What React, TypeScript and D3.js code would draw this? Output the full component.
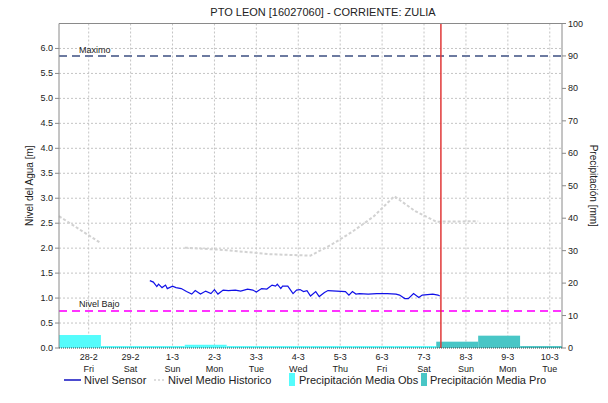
import React from "react";
import * as d3 from "d3";

const title = "PTO LEON [16027060] - CORRIENTE:  ZULIA";
const levelTicks = [0, 0.5, 1, 1.5, 2, 2.5, 3, 3.5, 4, 4.5, 5, 5.5, 6];
const precipTicks = [0, 10, 20, 30, 40, 50, 60, 70, 80, 90, 100];
const tickDates = ["2020-02-28", "2020-02-29", "2020-03-01", "2020-03-02", "2020-03-03", "2020-03-04", "2020-03-05", "2020-03-06", "2020-03-07", "2020-03-08", "2020-03-09", "2020-03-10"];
const tickLabels = ["28-2", "29-2", "1-3", "2-3", "3-3", "4-3", "5-3", "6-3", "7-3", "8-3", "9-3", "10-3"];
const tickDays = ["Fri", "Sat", "Sun", "Mon", "Tue", "Wed", "Thu", "Fri", "Sat", "Sun", "Mon", "Tue"];

// precipitation, daily totals (07:00 to 07:00), labelled by ending day
const obsDays = ["2020-02-28", "2020-02-29", "2020-03-01", "2020-03-02", "2020-03-03", "2020-03-04", "2020-03-05", "2020-03-06", "2020-03-07"];
const obsValues = [4.0, 0.6, 0.6, 1.0, 0.6, 0.6, 0.6, 0.6, 0.6];
const proDays = ["2020-03-08", "2020-03-09", "2020-03-10"];
const proValues = [1.95, 3.8, 0.6];

// historical mean level (null = gap)
const histTimes = ["2020-02-27T07:00", "2020-02-28T07:00", "2020-02-29T07:00", "2020-03-01T07:00", "2020-03-02T07:00", "2020-03-03T07:00", "2020-03-04T07:00", "2020-03-04T19:00", "2020-03-05T07:00", "2020-03-05T19:00", "2020-03-06T07:00", "2020-03-06T19:00", "2020-03-07T07:00", "2020-03-08T07:00"];
const histValues = [2.64, 2.1, null, 2.01, 1.96, 1.88, 1.85, 2.07, 2.33, 2.63, 3.04, 2.74, 2.53, 2.54];

// sensor level: hours after 2020-02-29 00:00
const sensorHours = [11, 13, 15, 16, 18, 20, 21, 24, 26, 29, 32, 35, 37, 40, 43, 46, 48, 50, 53, 56, 60, 63, 67, 70, 72, 75, 78, 81, 83, 84, 86, 87, 90, 93, 95, 97, 99, 101, 103, 106, 108, 111, 113, 118, 123, 125, 127, 129, 131, 136, 141, 147, 152, 154, 157, 159, 162, 165, 167, 170, 173, 176, 177];
const sensorValues = [1.35, 1.32, 1.23, 1.28, 1.21, 1.26, 1.19, 1.24, 1.21, 1.19, 1.13, 1.08, 1.15, 1.08, 1.14, 1.09, 1.17, 1.08, 1.16, 1.15, 1.16, 1.14, 1.18, 1.16, 1.12, 1.19, 1.18, 1.26, 1.24, 1.28, 1.19, 1.24, 1.24, 1.09, 1.16, 1.17, 1.13, 1.15, 1.04, 1.13, 1.03, 1.11, 1.15, 1.14, 1.13, 1.06, 1.13, 1.08, 1.09, 1.08, 1.09, 1.09, 1.08, 1.06, 0.99, 0.99, 1.09, 1.01, 1.06, 1.07, 1.08, 1.06, 1.04];

const maxLevel = 5.85;
const lowLevel = 0.74;
const nowTime = "2020-03-07T09:40";
const domainStart = "2020-02-27T07:00";
const domainEnd = "2020-03-10T07:00";

const legendLabels = ["Nivel Sensor", "Nivel Medio Historico", "Precipitación Media Obs", "Precipitación Media Pro"];

const parse = (s: string) => new Date(s.length === 10 ? s + "T00:00" : s);

export default function App() {
  const W = 608, H = 403;
  const L = 59, R = 562, T = 23.5, B = 348;
  const font = "'Liberation Sans', Arial, sans-serif";
  const x = d3.scaleTime().domain([parse(domainStart), parse(domainEnd)]).range([L, R]);
  const yL = d3.scaleLinear().domain([0, 6.5]).range([B, T]);
  const yR = d3.scaleLinear().domain([0, 100]).range([B, T]);

  const base = parse("2020-02-29T00:00").getTime();
  const sensor = sensorHours.map((h, i) => ({ t: new Date(base + h * 3600e3), v: sensorValues[i] }));
  const hist = histTimes.map((t, i) => ({ t: parse(t), v: histValues[i] }));

  const sensorLine = d3.line<any>().x(d => x(d.t)).y(d => yL(d.v));
  const histLine = d3.line<any>().defined(d => d.v !== null).x(d => x(d.t)).y(d => yL(d.v));

  const dayMs = 24 * 3600e3;
  const barFor = (day: string) => {
    const end = parse(day).getTime() + 7 * 3600e3;
    return [x(new Date(end - dayMs)), x(new Date(end))];
  };

  const grid = "#c4c4c4";
  const axisCol = "#8a8a8a";
  const nowX = x(parse(nowTime));

  return (
    <div style={{ position: "absolute", left: 0, top: 0 }}>
      <svg width={W} height={H} style={{ display: "block", background: "#fff" }} fontFamily={font}>
        <text x={323} y={16} textAnchor="middle" fontSize={11} fill="#222">{title}</text>

        {/* grid */}
        {levelTicks.filter(v => v > 0).map(v => (
          <line key={"h" + v} x1={L} x2={R} y1={yL(v)} y2={yL(v)} stroke={grid} strokeDasharray="2,2" />
        ))}
        {tickDates.map(d => (
          <line key={"v" + d} x1={x(parse(d))} x2={x(parse(d))} y1={T} y2={B} stroke={grid} strokeDasharray="2,2" />
        ))}

        {/* precipitation bars */}
        {obsDays.map((d, i) => {
          const [a, b] = barFor(d);
          return <rect key={"o" + d} x={a} width={b - a} y={yR(obsValues[i])} height={B - yR(obsValues[i])} fill="#55fcfc" />;
        })}
        {proDays.map((d, i) => {
          const [a, b] = barFor(d);
          return <rect key={"p" + d} x={a} width={b - a} y={yR(proValues[i])} height={B - yR(proValues[i])} fill="#48c6c6" />;
        })}

        {/* historical mean */}
        <path d={histLine(hist) || ""} fill="none" stroke="#d2d2d2" strokeWidth={2} strokeDasharray="3,2" />
        {/* sensor */}
        <path d={sensorLine(sensor) || ""} fill="none" stroke="#1010e8" strokeWidth={1.2} />

        {/* thresholds */}
        <line x1={L} x2={R} y1={yL(maxLevel)} y2={yL(maxLevel)} stroke="#6c7aa0" strokeWidth={2} strokeDasharray="8,5" />
        <text x={79} y={yL(maxLevel) - 3} fontSize={9} fill="#222">Maximo</text>
        <line x1={L} x2={R} y1={yL(lowLevel)} y2={yL(lowLevel)} stroke="#ff33ff" strokeWidth={2} strokeDasharray="8,5" />
        <text x={79} y={yL(lowLevel) - 4} fontSize={9} fill="#222">Nivel Bajo</text>

        {/* now line */}
        <line x1={nowX} x2={nowX} y1={T} y2={B} stroke="#e03838" strokeWidth={1.5} />

        {/* frame */}
        <line x1={L} x2={R} y1={T} y2={T} stroke={axisCol} />
        <line x1={L} x2={L} y1={T} y2={B} stroke={axisCol} />
        <line x1={R} x2={R} y1={T} y2={B} stroke={axisCol} />
        <line x1={L} x2={R} y1={B} y2={B} stroke="#444" strokeDasharray="1,1" />

        {/* left axis */}
        {levelTicks.map(v => (
          <g key={"lt" + v}>
            <line x1={L - 4} x2={L} y1={yL(v)} y2={yL(v)} stroke={axisCol} />
            <text x={L - 6} y={yL(v) + 3} textAnchor="end" fontSize={9} fill="#222">{d3.format(".1f")(v)}</text>
          </g>
        ))}
        {/* right axis */}
        {precipTicks.map(v => (
          <g key={"rt" + v}>
            <line x1={R} x2={R + 4} y1={yR(v)} y2={yR(v)} stroke={axisCol} />
            <text x={R + 6} y={yR(v) + 3} textAnchor="start" fontSize={9} fill="#222">{v}</text>
          </g>
        ))}
        {/* x axis labels */}
        {tickDates.map((d, i) => (
          <g key={"xt" + d}>
            <text x={x(parse(d))} y={360} textAnchor="middle" fontSize={9} fill="#222">{tickLabels[i]}</text>
            <text x={x(parse(d))} y={372} textAnchor="middle" fontSize={9} fill="#222">{tickDays[i]}</text>
          </g>
        ))}

        <text transform={`translate(33,${(T + B) / 2}) rotate(-90)`} textAnchor="middle" fontSize={10} fill="#222">Nivel del Agua [m]</text>
        <text transform={`translate(590,${(T + B) / 2}) rotate(90)`} textAnchor="middle" fontSize={10} fill="#222">Precipitación [mm]</text>

        {/* legend */}
        <g fontSize={11} fill="#222">
          <line x1={64} x2={81} y1={380} y2={380} stroke="#1010c0" strokeWidth={1.5} />
          <text x={84} y={384}>{legendLabels[0]}</text>
          <line x1={154} x2={166} y1={380} y2={380} stroke="#d2d2d2" strokeWidth={1.5} strokeDasharray="2,2" />
          <text x={168} y={384}>{legendLabels[1]}</text>
          <rect x={289} y={373} width={6} height={13} fill="#55fcfc" />
          <text x={299} y={384}>{legendLabels[2]}</text>
          <rect x={421} y={373} width={6} height={13} fill="#48c6c6" />
          <text x={430} y={384}>{legendLabels[3]}</text>
        </g>
      </svg>
    </div>
  );
}
